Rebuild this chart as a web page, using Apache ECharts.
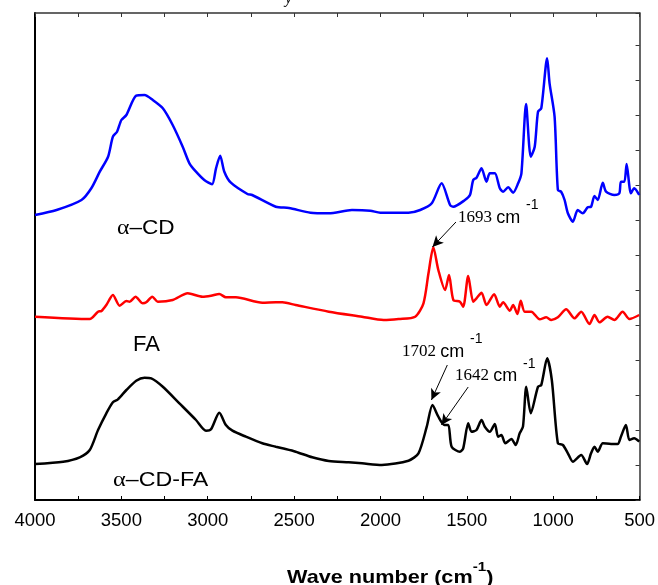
<!DOCTYPE html>
<html>
<head>
<meta charset="utf-8">
<script src="https://cdn.jsdelivr.net/npm/echarts@6/dist/echarts.min.js"></script>
<style>html,body{margin:0;padding:0;background:#fff;overflow:hidden;}#c{width:658px;height:585px;}</style>
</head>
<body>
<div id="c"></div>
<script>
// Wave numbers (cm^-1) and relative transmittance (arbitrary, offset traces)
const acdWave = [4000,3875,3731,3673,3625,3577,3549,3525,3500,3471,3414,3366,3318,3260,3203,3145,3106,3068,3020,2975,2952,2928,2904,2866,2770,2743,2606,2530,2405,2299,2165,2059,2001,1838,1770,1703,1646,1597,1578,1511,1482,1463,1444,1415,1386,1367,1338,1309,1290,1261,1232,1203,1184,1157,1130,1107,1088,1069,1035,1021,992,973,954,934,915,886,858,829,800,781,761,742,713,694,646,617,608,588,575,550,531,502];
const acdValue = [285,290,300,312,328.3,343.3,363.3,368.3,380,385,404.3,405,400,391.7,375,353.3,336.7,328.3,320,315.7,331.7,344.3,328.3,317.3,306,305,293.3,292,287.3,286.7,290,289.3,287.3,287.3,290,296.7,316.7,295,293.3,300,305,320,322.3,331.7,318.3,326.7,326.7,311.7,308.3,312.7,307.3,316.7,326.7,396,343.3,353.3,388.3,391.7,441.7,416.7,383.3,310,308.3,300,286.7,278.3,290,286.7,292.7,293.3,304,300,317.3,308.3,305,306.7,318.3,318.3,336,306.7,311.7,305];

const faWave = [4000,3683,3635,3615,3587,3549,3510,3471,3452,3418,3376,3356,3321,3289,3203,3116,3030,2981,2933,2895,2837,2684,2606,2568,2491,2299,2107,1982,1895,1799,1751,1722,1694,1665,1626,1603,1578,1540,1521,1492,1463,1444,1415,1386,1342,1309,1290,1251,1232,1207,1188,1165,1127,1078,1040,1011,973,925,877,838,790,761,732,685,646,598,559,502];
const faValue = [183.3,181,188.3,189,195,205,194.3,199,198.3,203.3,196.7,197.7,203.3,198.3,200,206.7,203.3,204.3,206,202.7,202.7,197.3,197.7,197.7,195,188.3,183.3,180,181,183.3,196.7,226.7,252.7,230,210,225,200,198.3,193.3,224,198.3,201.7,207.3,195,205.7,193.3,197.7,189.3,195,186,199.3,188.3,188.3,180.7,182.7,180,182.7,190.7,181.7,188.3,176,185,177.7,183.3,180,188.3,181,185];

const cdfaWave = [4000,3837,3741,3683,3635,3587,3549,3520,3471,3414,3366,3327,3260,3164,3068,3010,2981,2933,2895,2857,2779,2684,2606,2568,2491,2395,2299,2184,2107,1992,1838,1780,1732,1699,1665,1630,1607,1588,1540,1521,1492,1473,1444,1415,1396,1367,1338,1319,1300,1277,1242,1217,1194,1175,1156,1130,1088,1069,1035,1008,973,944,915,886,838,804,781,761,742,713,665,627,608,579,559,531,502];
const cdfaValue = [36,38.3,42.7,50,70,86.7,97.7,100.7,110,119.3,122.3,121.7,113.3,96.7,80,69.3,70.7,87.3,75,69.3,63.3,56.7,53.3,51.7,48.3,42.7,39,37.7,36.7,35,39.3,46.7,73.3,95,83.3,75,75,53.3,48.3,51.7,76.7,68.3,70,80,73.3,68.3,76,63.3,65,56.7,61,55,66.7,73.3,113.3,86.7,113.3,115,141.7,120,56.7,55,46.7,38.3,45,36,46.7,53.3,48.3,56.7,56,56,63.3,75,60,61.7,58.3];

const xTicks = [4000,3500,3000,2500,2000,1500,1000,500];

// Annotation arrows: [fromWave, fromValue, toWave, toValue]
const arrow1693 = [1563, 278, 1699, 253];
const arrow1702 = [1613, 135, 1705, 100];
const arrow1642 = [1492, 113, 1647, 75];

function pairs(w, v){ return w.map((x,i)=>[x, v[i]]); }

const chart = echarts.init(document.getElementById('c'), null, {renderer:'canvas', width:658, height:585});

const sans = 'Arial, "Liberation Sans", sans-serif';
const serif = '"Times New Roman", "Liberation Serif", serif';

const arrowStyle = {silent: true, symbol: ['none','arrow'], symbolSize: [8, 11], label:{show:false},
  lineStyle: {color:'#000', width:1, type:'solid'}};

function ann(x, y, num, supX, supY){
  return [
    {type:'text', x: x, y: y, style:{text:'{n|'+num+' }{a|cm}', verticalAlign:'middle',
      rich:{n:{font:'17px '+serif, fill:'#000'}, a:{font:'18px '+sans, fill:'#000'}}}},
    {type:'text', x: supX, y: supY, style:{text:'-1', font:'14px '+sans, fill:'#000', verticalAlign:'middle'}}
  ];
}

const option = {
  animation: false,
  grid: {left: 35, top: 13, width: 606, height: 487, containLabel: false},
  xAxis: [{
    type: 'value', min: 500, max: 4000, interval: 500, inverse: true,
    position: 'bottom',
    axisLine: {show: true, lineStyle: {color:'#000', width: 2}},
    axisTick: {show: true, inside: true, length: 4, lineStyle:{color:'#000', width:1}},
    minorTick: {show: true, splitNumber: 2, length: 4, lineStyle:{color:'#000', width:1}},
    splitLine: {show: false},
    axisLabel: {show: true, color:'#000', fontSize: 18.5, fontFamily: sans, margin: 11,
      formatter: v => xTicks.indexOf(v) >= 0 ? String(v) : ''}
  },{
    type: 'value', min: 500, max: 4000, interval: 500, inverse: true,
    position: 'top',
    axisLine: {show: true, onZero:false, lineStyle: {color:'#333', width: 1.5}},
    axisTick: {show: true, inside: true, length: 4, lineStyle:{color:'#333', width:1}},
    minorTick: {show: true, splitNumber: 2, length: 4, lineStyle:{color:'#333', width:1}},
    splitLine: {show: false},
    axisLabel: {show: false}
  }],
  yAxis: [{
    type: 'value', min: 0, max: 487, position: 'left',
    axisLine: {show: true, onZero:false, lineStyle: {color:'#000', width: 2}},
    axisTick: {show: false}, axisLabel: {show: false}, splitLine: {show: false}
  },{
    type: 'value', min: 0, max: 487, interval: 35, position: 'right',
    axisLine: {show: true, onZero:false, lineStyle: {color:'#333', width: 1.5}},
    axisTick: {show: true, inside: true, length: 4, lineStyle:{color:'#333', width:1}},
    axisLabel: {show: false}, splitLine: {show: false}
  }],
  series: [{
    name: 'α–CD', type: 'line', data: pairs(acdWave, acdValue),
    showSymbol: false, smooth: 0.25, lineStyle: {color:'#0000ff', width: 2.5}, itemStyle:{color:'#0000ff'},
    z: 3
  },{
    name: 'FA', type: 'line', data: pairs(faWave, faValue),
    showSymbol: false, smooth: 0.25, lineStyle: {color:'#ff0000', width: 2.5}, itemStyle:{color:'#ff0000'},
    markLine: Object.assign({}, arrowStyle, {
      data: [[{coord:[arrow1693[0],arrow1693[1]]},{coord:[arrow1693[2],arrow1693[3]]}]]
    }), z: 3
  },{
    name: 'α–CD-FA', type: 'line', data: pairs(cdfaWave, cdfaValue),
    showSymbol: false, smooth: 0.25, lineStyle: {color:'#000000', width: 2.5}, itemStyle:{color:'#000'},
    markLine: Object.assign({}, arrowStyle, {
      data: [
        [{coord:[arrow1702[0],arrow1702[1]]},{coord:[arrow1702[2],arrow1702[3]]}],
        [{coord:[arrow1642[0],arrow1642[1]]},{coord:[arrow1642[2],arrow1642[3]]}]
      ]
    }),
    z: 3
  }],
  graphic: [
    {type:'text', x: 285, y: -9, style:{text:'y', font:'italic 16px '+serif, fill:'#000'}},
    {type:'text', x: 117, y: 228, scaleX: 1.13, style:{text:'{g|α}{a|–CD}', verticalAlign:'middle',
      rich:{g:{font:'21px '+serif, fill:'#000'}, a:{font:'20px '+sans, fill:'#000'}}}},
    {type:'text', x: 133, y: 345, scaleX: 1.0, style:{text:'FA', font:'22px '+sans, fill:'#000', verticalAlign:'middle'}},
    {type:'text', x: 113, y: 480, scaleX: 1.16, style:{text:'{g|α}{a|–CD-FA}', verticalAlign:'middle',
      rich:{g:{font:'21px '+serif, fill:'#000'}, a:{font:'20px '+sans, fill:'#000'}}}},
    ...ann(458, 218, '1693', 526, 205),
    ...ann(402, 352, '1702', 470, 339),
    ...ann(455, 376, '1642', 523, 364),
    {type:'text', x: 287, y: 574, scaleX: 1.17, style:{text:'{a|Wave number (cm}{s|-1}{a|)}', verticalAlign:'middle',
      rich:{a:{font:'bold 18.5px '+sans, fill:'#000', lineHeight: 26, verticalAlign:'bottom'},
            s:{font:'bold 13px '+sans, fill:'#000', lineHeight: 26, verticalAlign:'top'}}}}
  ]
};
chart.setOption(option);
</script>
</body>
</html>
